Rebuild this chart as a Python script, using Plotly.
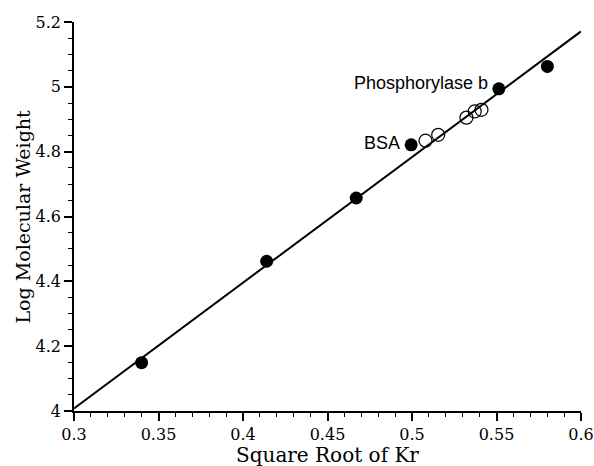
import plotly.graph_objects as go

# Filled markers (standards)
std_x = [0.340, 0.414, 0.467, 0.4995, 0.5514, 0.5801]
std_y = [4.149, 4.462, 4.657, 4.821, 4.994, 5.063]

# Open markers (unknowns)
unk_x = [0.508, 0.5155, 0.5322, 0.5371, 0.5411]
unk_y = [4.834, 4.852, 4.905, 4.924, 4.929]

# Fitted line end points
fit_x = [0.3, 0.6]
fit_y = [4.008, 5.171]

labels = ["BSA", "Phosphorylase b"]
label_x = [std_x[3], std_x[4]]
label_y = [std_y[3], std_y[4]]

x_title = "Square Root of Kr"
y_title = "Log Molecular Weight"

fig = go.Figure()
fig.add_trace(go.Scatter(x=fit_x, y=fit_y, mode="lines",
                         line=dict(color="black", width=2), hoverinfo="skip"))
fig.add_trace(go.Scatter(x=unk_x, y=unk_y, mode="markers",
                         marker=dict(symbol="circle-open", size=13, color="black",
                                     line=dict(width=1.2, color="black"))))
fig.add_trace(go.Scatter(x=std_x, y=std_y, mode="markers",
                         marker=dict(symbol="circle", size=13, color="black")))

for t, x, y in zip(labels, label_x, label_y):
    fig.add_annotation(x=x, y=y, text=t, showarrow=False, xanchor="right",
                       xshift=-9, yshift=6 if t != "BSA" else 2,
                       font=dict(family="Liberation Sans, Arial", size=18, color="black"))

serif = "DejaVu Serif, serif"
fig.add_annotation(xref="paper", yref="paper", x=0.5, y=0, yshift=-44, xanchor="center",
                   yanchor="middle", text=x_title, showarrow=False,
                   font=dict(family=serif, size=20, color="black"))
fig.add_annotation(xref="paper", yref="paper", x=0, y=0.5, xshift=-52, xanchor="center",
                   yanchor="middle", text=y_title, textangle=-90, showarrow=False,
                   font=dict(family=serif, size=19, color="black"))

fig.update_layout(
    width=594, height=466,
    margin=dict(l=74, r=13, t=22, b=55),
    paper_bgcolor="white", plot_bgcolor="white",
    showlegend=False,
    font=dict(family=serif, size=15, color="black"),
)
fig.update_xaxes(
    range=[0.3, 0.6], tick0=0.3, dtick=0.05,
    ticks="outside", ticklen=8, tickwidth=1.5, tickcolor="black",
    minor=dict(dtick=0.01, ticks="outside", ticklen=4, tickcolor="black", tickwidth=1),
    showline=True, linecolor="black", linewidth=1.5, showgrid=False, zeroline=False,
    tickfont=dict(family=serif, size=16), automargin=False,
)
fig.update_yaxes(
    range=[4, 5.2], tick0=4, dtick=0.2,
    ticks="outside", ticklen=8, tickwidth=1.5, tickcolor="black",
    minor=dict(dtick=0.05, ticks="outside", ticklen=4, tickcolor="black", tickwidth=1),
    showline=True, linecolor="black", linewidth=1.5, showgrid=False, zeroline=False,
    tickfont=dict(family=serif, size=16), automargin=False,
)
fig.write_html("out.html", config={"displayModeBar": False},
               post_script="document.body.style.margin='0';")
